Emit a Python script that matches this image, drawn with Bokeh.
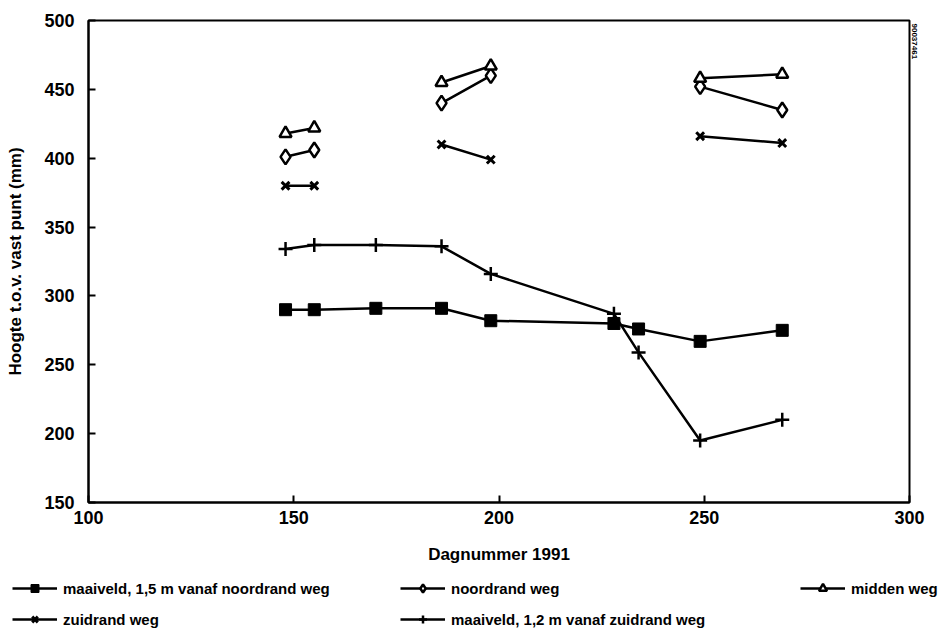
import numpy as np
from bokeh.plotting import figure
from bokeh.layouts import column
from bokeh.models import ColumnDataSource, Legend, LegendItem, Title, FixedTicker
from bokeh.embed import file_html
from bokeh.resources import INLINE

# Day numbers (1991) of the measurements near the road
days = [148, 155, 170, 186, 198, 228, 234, 249, 269]
maaiveld_noord = [290, 290, 291, 291, 282, 280, 276, 267, 275]
maaiveld_zuid = [334, 337, 337, 336, 316, 287, 259, 195, 210]

# Road-surface measurements: three campaigns, None separates them
days_weg = [148, 155, None, 186, 198, None, 249, 269]
noordrand = [401, 406, None, 440, 460, None, 452, 435]
midden = [418, 422, None, 455, 467, None, 458, 461]
zuidrand = [380, 380, None, 410, 399, None, 416, 411]

x_ticks = [100, 150, 200, 250, 300]
y_ticks = [150, 200, 250, 300, 350, 400, 450, 500]

FONT = "Liberation Sans"
LW = 2.5

# Marker styles shared by the plot and its legend
STYLES = {
    "noord": dict(marker="square", size=12, fill_color="black", line_color="black", line_width=1),
    "noordrand": dict(marker="diamond", size=15, fill_color="white", line_color="black", line_width=2.5),
    "midden": dict(marker="triangle", size=12, fill_color="white", line_color="black", line_width=2.5),
    "zuidrand": dict(marker="x", size=11, line_color="black", line_width=3),
    "zuid": dict(marker="cross", size=14, line_color="black", line_width=2.5),
}


def arr(values):
    return np.array([np.nan if v is None else v for v in values], dtype=float)


p = figure(
    width=950, height=572,
    x_range=(100, 300), y_range=(150, 500),
    output_backend="svg", toolbar_location=None,
    min_border_left=88, min_border_right=41,
    min_border_top=20, min_border_bottom=70,
)
p.grid.visible = False
p.outline_line_color = "black"
p.outline_line_width = 2
p.outline_line_alpha = 1

p.xaxis.ticker = FixedTicker(ticks=x_ticks)
p.yaxis.ticker = FixedTicker(ticks=y_ticks)
for ax in (p.xaxis[0], p.yaxis[0]):
    ax.axis_line_width = 2
    ax.axis_line_color = "black"
    ax.major_tick_in = 7
    ax.major_tick_out = 0
    ax.major_tick_line_width = 2
    ax.minor_tick_line_color = None
    ax.major_label_text_font = FONT
    ax.major_label_text_font_style = "bold"
    ax.major_label_text_font_size = "18px"
    ax.major_label_text_color = "black"
    ax.axis_label_text_font = FONT
    ax.axis_label_text_font_style = "bold"
    ax.axis_label_text_font_size = "17px"
    ax.axis_label_text_color = "black"

p.xaxis.axis_label = "Dagnummer 1991"
p.xaxis.major_label_standoff = 8
p.xaxis.axis_label_standoff = 18
p.yaxis.axis_label = "Hoogte t.o.v. vast punt (mm)"
p.yaxis.major_label_standoff = 14
p.yaxis.axis_label_standoff = 16

src_a = ColumnDataSource(dict(x=days, noord=maaiveld_noord, zuid=maaiveld_zuid))
src_b = ColumnDataSource(dict(x=arr(days_weg), noordrand=arr(noordrand),
                              midden=arr(midden), zuidrand=arr(zuidrand)))

series = [("noord", src_a), ("noordrand", src_b), ("midden", src_b),
          ("zuidrand", src_b), ("zuid", src_a)]
for key, src in series:
    p.line("x", key, source=src, line_color="black", line_width=LW)
    p.scatter("x", key, source=src, **STYLES[key])

# Figure code printed along the right edge
p.add_layout(Title(
    text="90037461", align="left",
    text_font=FONT, text_font_style="bold", text_font_size="8px",
    text_color="black", offset=3, standoff=4,
), "right")

# Legend strip below the chart: two rows, three columns
lf = figure(
    width=950, height=64, x_range=(0, 1), y_range=(0, 1),
    x_axis_type=None, y_axis_type=None,
    output_backend="svg", toolbar_location=None, min_border=0,
)
lf.frame_align = False
lf.outline_line_color = None
lf.grid.visible = False

entries = [
    ("maaiveld, 1,5 m vanaf noordrand weg", "noord", src_a, (12, 38)),
    ("noordrand weg", "noordrand", src_b, (400, 38)),
    ("midden weg", "midden", src_b, (800, 38)),
    ("zuidrand weg", "zuidrand", src_b, (12, 7)),
    ("maaiveld, 1,2 m vanaf zuidrand weg", "zuid", src_a, (400, 7)),
]
for label, key, src, loc in entries:
    # hidden copies of the series, used only for their legend glyphs
    rl = lf.line("x", key, source=src, line_color="black", line_width=LW, visible=False)
    rm = lf.scatter("x", key, source=src, visible=False, **STYLES[key])
    leg = Legend(
        items=[LegendItem(label=label, renderers=[rl, rm])],
        location=loc,
        border_line_alpha=0, background_fill_alpha=0,
        padding=0, margin=0, spacing=0,
        glyph_width=45, glyph_height=20, label_height=20,
        label_standoff=6,
        label_text_font=FONT, label_text_font_style="bold",
        label_text_font_size="15px", label_text_color="black",
    )
    lf.add_layout(leg)

open("out.html", "w").write(file_html(column(p, lf, spacing=0), INLINE))
